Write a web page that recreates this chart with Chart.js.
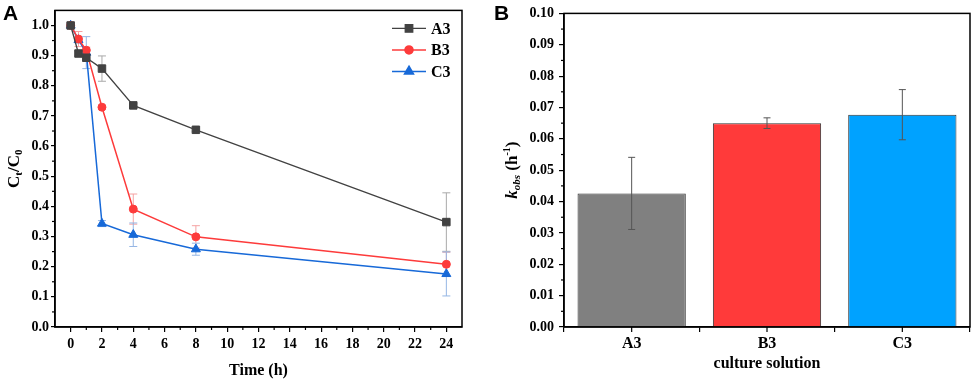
<!DOCTYPE html>
<html>
<head>
<meta charset="utf-8">
<title>Ct/C0 and kobs</title>
<script src="https://cdn.jsdelivr.net/npm/chart.js@4.4.1/dist/chart.umd.min.js"></script>
<style>
    body { margin: 0; background: #fff; }
    #wrap { position: relative; width: 976px; height: 384px; overflow: hidden; }
    .panel { position: absolute; top: 0; width: 488px; height: 384px; }
    #panelA { left: 0; }
    #panelB { left: 488px; }
    .tag { position: absolute; font: bold 21px "Liberation Sans", Arial, sans-serif; line-height: 21px; }
</style>
</head>
<body>
<div id="wrap">
    <div class="panel" id="panelA"><canvas id="decayChart"></canvas></div>
    <div class="panel" id="panelB"><canvas id="rateChart"></canvas></div>
    <div class="tag" style="left:3px; top:2px;">A</div>
    <div class="tag" style="left:494px; top:2px;">B</div>
</div>
<script>
// Panel A: Ct/C0 over time
const times = [0, 0.5, 1, 2, 4, 8, 24];
const a3Values = [1.0, 0.907, 0.893, 0.857, 0.735, 0.654, 0.348];
const a3Errors = [0.008, 0.008, 0.01, 0.042, 0.006, 0.006, 0.097];
const b3Values = [1.0, 0.955, 0.918, 0.729, 0.391, 0.299, 0.208];
const b3Errors = [0.01, 0.025, 0.01, 0.006, 0.05, 0.037, 0.04];
const c3Values = [1.0, 0.952, 0.91, 0.343, 0.306, 0.258, 0.176];
const c3Errors = [0.005, 0.01, 0.053, 0.01, 0.039, 0.02, 0.073];
const timeTicks = [0, 2, 4, 6, 8, 10, 12, 14, 16, 18, 20, 22, 24];
const ratioTicks = [0, 0.1, 0.2, 0.3, 0.4, 0.5, 0.6, 0.7, 0.8, 0.9, 1.0];

// Panel B: kobs per culture solution
const solutions = ['A3', 'B3', 'C3'];
const kObs = [0.0426, 0.065, 0.0677];
const kObsErrors = [0.0115, 0.0017, 0.008];
const kTicks = [0, 0.01, 0.02, 0.03, 0.04, 0.05, 0.06, 0.07, 0.08, 0.09, 0.10];

const SERIF = '"Liberation Serif", "Times New Roman", serif';
Chart.defaults.font.family = SERIF;
Chart.defaults.font.weight = 'bold';
Chart.defaults.color = '#000';

const toPoints = (values) => values.map((v, i) => ({ x: times[i], y: v }));

// Draw a run of text pieces (for sub/superscripts), centred on (0,0)
const drawRich = (ctx, parts) => {
    let total = 0;
    parts.forEach(p => { ctx.font = p.font; total += ctx.measureText(p.text).width; });
    let x = -total / 2;
    ctx.textBaseline = 'middle';
    ctx.textAlign = 'left';
    parts.forEach(p => {
        ctx.font = p.font;
        ctx.fillText(p.text, x, p.dy || 0);
        x += ctx.measureText(p.text).width;
    });
};

// Error bars from dataset.errors
const drawErrors = (chart, opts) => {
    const ctx = chart.ctx;
    const yScale = chart.scales.y;
    const cap = opts.cap || 8;
    chart.data.datasets.forEach((ds, i) => {
        if (!ds.errors) return;
        const meta = chart.getDatasetMeta(i);
        ctx.save();
        ctx.strokeStyle = ds.errorColor;
        ctx.lineWidth = 1;
        meta.data.forEach((el, j) => {
            const raw = ds.data[j];
            const value = typeof raw === 'object' ? raw.y : raw;
            const top = yScale.getPixelForValue(value + ds.errors[j]);
            const bottom = yScale.getPixelForValue(value - ds.errors[j]);
            ctx.beginPath();
            ctx.moveTo(el.x, top);
            ctx.lineTo(el.x, bottom);
            ctx.moveTo(el.x - cap / 2, top);
            ctx.lineTo(el.x + cap / 2, top);
            ctx.moveTo(el.x - cap / 2, bottom);
            ctx.lineTo(el.x + cap / 2, bottom);
            ctx.stroke();
        });
        ctx.restore();
    });
};

const errorBarPlugin = {
    id: 'errorBars',
    beforeDatasetsDraw(chart, args, opts) { if (opts.behind) drawErrors(chart, opts); },
    afterDatasetsDraw(chart, args, opts) { if (!opts.behind) drawErrors(chart, opts); }
};

// Frame, minor ticks, axis titles
const framePlugin = {
    id: 'frame',
    afterDraw(chart, args, opts) {
        const { ctx, chartArea } = chart;
        ctx.save();
        ctx.strokeStyle = '#000';
        ctx.lineWidth = 1.5;
        ctx.strokeRect(chartArea.left, chartArea.top, chartArea.right - chartArea.left, chartArea.bottom - chartArea.top);

        // minor ticks halfway between major ticks
        ctx.lineWidth = 1.2;
        (opts.minor || []).forEach(id => {
            const scale = chart.scales[id];
            const values = scale.ticks.map(t => t.value);
            for (let k = 0; k < values.length - 1; k++) {
                const p = scale.getPixelForValue((values[k] + values[k + 1]) / 2);
                ctx.beginPath();
                if (id === 'y') {
                    ctx.moveTo(chartArea.left, p);
                    ctx.lineTo(chartArea.left - 3, p);
                } else {
                    ctx.moveTo(p, chartArea.bottom);
                    ctx.lineTo(p, chartArea.bottom + 3);
                }
                ctx.stroke();
            }
        });

        // ticks under category centres
        if (opts.categoryCenters) {
            const xs = chart.scales.x;
            xs.ticks.forEach((t, i) => {
                const p = xs.getPixelForTick(i);
                ctx.beginPath();
                ctx.moveTo(p, chartArea.bottom);
                ctx.lineTo(p, chartArea.bottom + 5);
                ctx.stroke();
            });
        }

        // axis titles
        ctx.fillStyle = '#000';
        if (opts.xTitle) {
            ctx.save();
            ctx.translate((chartArea.left + chartArea.right) / 2, opts.xTitleY);
            drawRich(ctx, [{ text: opts.xTitle, font: 'bold 16px ' + SERIF }]);
            ctx.restore();
        }
        if (opts.yTitle) {
            ctx.save();
            ctx.translate(opts.yTitleX, (chartArea.top + chartArea.bottom) / 2);
            ctx.rotate(-Math.PI / 2);
            drawRich(ctx, opts.yTitle);
            ctx.restore();
        }
        ctx.restore();
    }
};

// Legend with line + marker, top right inside the plot
const lineLegendPlugin = {
    id: 'lineLegend',
    afterDraw(chart) {
        const { ctx, chartArea } = chart;
        chart.data.datasets.forEach((ds, i) => {
            const y = chartArea.top + 18 + i * 21.5;
            const x0 = chartArea.right - 70;
            ctx.save();
            ctx.strokeStyle = ds.borderColor;
            ctx.lineWidth = ds.borderWidth;
            ctx.beginPath();
            ctx.moveTo(x0, y);
            ctx.lineTo(x0 + 34, y);
            ctx.stroke();
            ctx.fillStyle = ds.pointBackgroundColor;
            ctx.strokeStyle = ds.pointBorderColor;
            Chart.helpers.drawPoint(ctx, {
                pointStyle: ds.pointStyle, radius: ds.pointRadius, rotation: 0, borderWidth: 1
            }, x0 + 17, y);
            ctx.fillStyle = '#000';
            ctx.font = 'bold 16px ' + SERIF;
            ctx.textBaseline = 'middle';
            ctx.textAlign = 'left';
            ctx.fillText(ds.label, x0 + 39, y + 1);
            ctx.restore();
        });
    }
};

const makeSeries = (label, values, errors, color, errorColor, style, radius, width) => ({
    label,
    data: toPoints(values),
    errors,
    errorColor,
    borderColor: color,
    borderWidth: width,
    backgroundColor: color,
    pointBackgroundColor: color,
    pointBorderColor: color,
    pointStyle: style,
    pointRadius: radius,
    pointBorderWidth: 1,
    tension: 0
});

const initDecayChart = () => {
    const ctx = document.querySelector('#decayChart');
    new Chart(ctx, {
        type: 'line',
        data: {
            datasets: [
                makeSeries('A3', a3Values, a3Errors, '#424242', '#a9a9a9', 'rect', 5.3, 1.3),
                makeSeries('B3', b3Values, b3Errors, '#fd3b3b', '#f5a3a3', 'circle', 4, 1.5),
                makeSeries('C3', c3Values, c3Errors, '#1769d8', '#95b6e4', 'triangle', 5.2, 1.5)
            ]
        },
        options: {
            responsive: true,
            maintainAspectRatio: false,
            animation: false,
            layout: { padding: { top: 10, right: 26, left: 0, bottom: 0 } },
            plugins: {
                legend: { display: false },
                tooltip: { enabled: false },
                errorBars: { behind: true, cap: 8 },
                frame: {
                    minor: ['x', 'y'],
                    xTitle: 'Time (h)',
                    xTitleY: 371,
                    yTitleX: 15,
                    yTitle: [
                        { text: 'C', font: 'bold 17px ' + SERIF },
                        { text: 't', font: 'bold 11px ' + SERIF, dy: 4 },
                        { text: '/C', font: 'bold 17px ' + SERIF },
                        { text: '0', font: 'bold 11px ' + SERIF, dy: 4 }
                    ]
                }
            },
            scales: {
                x: {
                    type: 'linear',
                    min: -1,
                    max: 25,
                    afterBuildTicks: (scale) => { scale.ticks = timeTicks.map(v => ({ value: v })); },
                    afterFit: (scale) => { scale.height = 57; },
                    ticks: { font: { size: 14, weight: 'bold' }, padding: 4, maxRotation: 0 },
                    grid: { drawOnChartArea: false, drawTicks: true, tickLength: 5, color: '#000', lineWidth: 1.2 },
                    border: { color: '#000', width: 1.5 }
                },
                y: {
                    min: 0,
                    max: 1.05,
                    afterBuildTicks: (scale) => { scale.ticks = ratioTicks.map(v => ({ value: v })); },
                    afterFit: (scale) => { scale.width = 55; },
                    ticks: { font: { size: 14, weight: 'bold' }, padding: 2, callback: (v) => v.toFixed(1) },
                    grid: { drawOnChartArea: false, drawTicks: true, tickLength: 4, color: '#000', lineWidth: 1.2 },
                    border: { color: '#000', width: 1.5 }
                }
            }
        },
        plugins: [errorBarPlugin, framePlugin, lineLegendPlugin]
    });
};

const initRateChart = () => {
    const ctx = document.querySelector('#rateChart');
    new Chart(ctx, {
        type: 'bar',
        data: {
            labels: solutions,
            datasets: [{
                label: 'kobs',
                data: kObs,
                errors: kObsErrors,
                errorColor: '#555',
                backgroundColor: ['#808080', '#ff3a3a', '#00a2ff'],
                borderColor: '#333',
                borderWidth: 1,
                barPercentage: 0.8,
                categoryPercentage: 1
            }]
        },
        options: {
            responsive: true,
            maintainAspectRatio: false,
            animation: false,
            layout: { padding: { top: 10, right: 6, left: 0, bottom: 0 } },
            plugins: {
                legend: { display: false },
                tooltip: { enabled: false },
                errorBars: { behind: false, cap: 7 },
                frame: {
                    minor: ['y'],
                    categoryCenters: true,
                    xTitle: 'culture solution',
                    xTitleY: 364,
                    yTitleX: 25,
                    yTitle: [
                        { text: 'k', font: 'bold italic 17px ' + SERIF },
                        { text: 'obs', font: 'bold italic 11px ' + SERIF, dy: 4 },
                        { text: ' (h', font: 'bold 17px ' + SERIF },
                        { text: '-1', font: 'bold 10px ' + SERIF, dy: -6 },
                        { text: ')', font: 'bold 17px ' + SERIF }
                    ]
                }
            },
            scales: {
                x: {
                    afterFit: (scale) => { scale.height = 57; },
                    ticks: { font: { size: 16, weight: 'bold' }, padding: 2 },
                    grid: { drawOnChartArea: false, drawTicks: true, tickLength: 5, color: '#000', lineWidth: 1.2 },
                    border: { color: '#000', width: 1.5 }
                },
                y: {
                    min: 0,
                    max: 0.1,
                    afterBuildTicks: (scale) => { scale.ticks = kTicks.map(v => ({ value: v })); },
                    afterFit: (scale) => { scale.width = 76; },
                    ticks: { font: { size: 14, weight: 'bold' }, padding: 5, callback: (v) => v.toFixed(2) },
                    grid: { drawOnChartArea: false, drawTicks: true, tickLength: 5, color: '#000', lineWidth: 1.2 },
                    border: { color: '#000', width: 1.5 }
                }
            }
        },
        plugins: [errorBarPlugin, framePlugin]
    });
};

initDecayChart();
initRateChart();
</script>
</body>
</html>
